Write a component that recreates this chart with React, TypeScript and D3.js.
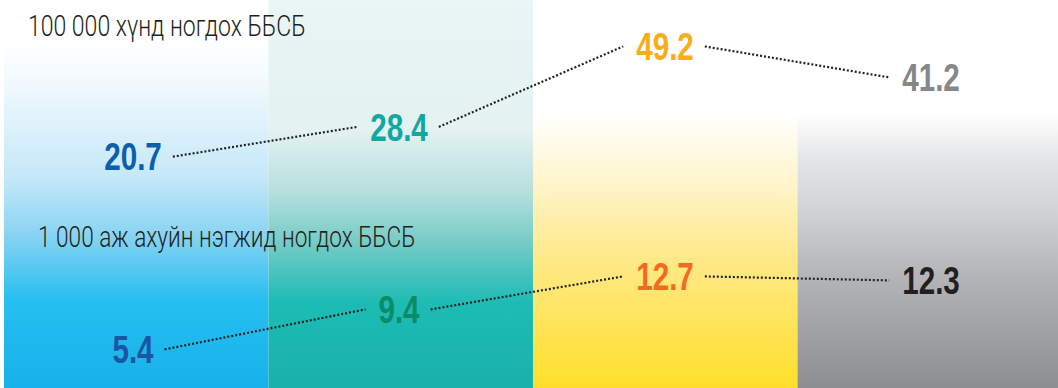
import React, { useEffect, useRef } from "react";
import * as d3 from "d3";

const categories = ["c1", "c2", "c3", "c4"];
const perPopulation = [20.7, 28.4, 49.2, 41.2];
const perEntity = [5.4, 9.4, 12.7, 12.3];
const seriesTitles = ["100 000 хүнд ногдох ББСБ", "1 000 аж ахуйн нэгжид ногдох ББСБ"];

const W = 1058;
const H = 388;
const TITLE_FONT = "Roboto, 'Liberation Sans', sans-serif";
const LABEL_FONT = "'Liberation Sans', Roboto, sans-serif";
const NARROW = 0.78;

const topColors = ["#0b5fac", "#12a7a0", "#f8ad1b", "#868789"];
const bottomColors = ["#1b56a4", "#0d8a66", "#f36b23", "#231f20"];

const columnStyles = [
  { top: 37, stops: [[0, "#ffffff"], [0.1, "#f6fbfe"], [0.4, "#c5e8f8"], [0.55, "#8fd5f3"], [0.75, "#26bff0"], [1, "#17b1eb"]] },
  { top: 0, stops: [[0, "#eaf5f5"], [0.33, "#e4f2f2"], [0.5, "#b3dfdc"], [0.62, "#78ccc6"], [0.78, "#1cbcb5"], [1, "#19b1a9"]] },
  { top: 113, stops: [[0, "#ffffff"], [0.27, "#fef4c7"], [0.5, "#feea8f"], [1, "#ffdf2a"]] },
  { top: 113, stops: [[0, "#ffffff"], [0.17, "#e4e5e7"], [0.36, "#d1d2d4"], [0.58, "#b5b6b9"], [1, "#8d8e91"]] },
];

export default function App() {
  const ref = useRef<SVGSVGElement | null>(null);

  useEffect(() => {
    const svg = d3.select(ref.current);
    svg.selectAll("*").remove();

    const xBand = d3.scaleBand<string>().domain(categories).range([4, 1062]).padding(0);
    const xLabel = d3.scalePoint<string>().domain(categories).range([133, 931]);
    const yTop = d3.scaleLinear().domain([20, 50]).range([159.4, 43.3]);
    const yBottom = d3.scaleLinear().domain([5, 13]).range([353.4, 273.4]);

    const defs = svg.append("defs");
    columnStyles.forEach((c, i) => {
      const g = defs
        .append("linearGradient")
        .attr("id", `col${i}`)
        .attr("x1", 0)
        .attr("y1", 0)
        .attr("x2", 0)
        .attr("y2", 1);
      c.stops.forEach(([o, col]) => g.append("stop").attr("offset", o as number).attr("stop-color", col as string));
    });

    svg
      .append("g")
      .selectAll("rect")
      .data(categories)
      .join("rect")
      .attr("x", (d) => xBand(d)!)
      .attr("y", (_, i) => columnStyles[i].top)
      .attr("width", xBand.bandwidth())
      .attr("height", (_, i) => H - columnStyles[i].top)
      .attr("fill", (_, i) => `url(#col${i})`);

    const titlePos = [
      { x: 28, y: 35.5, fs: 29.5 },
      { x: 38, y: 247, fs: 29 },
    ];
    seriesTitles.forEach((t, i) => {
      svg
        .append("text")
        .attr("transform", `translate(${titlePos[i].x},${titlePos[i].y}) scale(${NARROW},1)`)
        .attr("font-family", TITLE_FONT)
        .attr("font-weight", 300)
        .attr("font-size", titlePos[i].fs)
        .attr("fill", "#231f20")
        .text(t);
    });

    const drawSeries = (values: number[], y: d3.ScaleLinear<number, number>, colors: string[]) => {
      const g = svg.append("g");
      const fs = 38;
      const labels = g
        .selectAll("text")
        .data(values)
        .join("text")
        .attr(
          "transform",
          (d, i) => `translate(${xLabel(categories[i])},${y(d) + fs * 0.36}) scale(${NARROW},1)`
        )
        .attr("text-anchor", "middle")
        .attr("font-family", LABEL_FONT)
        .attr("font-weight", "bold")
        .attr("font-size", fs)
        .attr("fill", (_, i) => colors[i])
        .text((d) => d.toFixed(1));
      const widths: number[] = [];
      labels.each(function () {
        widths.push((this as SVGTextElement).getComputedTextLength() * NARROW);
      });
      const segs = values.slice(0, -1).map((v, i) => ({
        x1: xLabel(categories[i])! + widths[i] / 2 + 11,
        y1: y(v),
        x2: xLabel(categories[i + 1])! - widths[i + 1] / 2 - 13,
        y2: y(values[i + 1]),
      }));
      g.selectAll("line")
        .data(segs)
        .join("line")
        .attr("x1", (d) => d.x1)
        .attr("y1", (d) => d.y1)
        .attr("x2", (d) => d.x2)
        .attr("y2", (d) => d.y2)
        .attr("stroke", "#222222")
        .attr("stroke-width", 2.2)
        .attr("stroke-dasharray", "2 2");
    };

    drawSeries(perPopulation, yTop, topColors);
    drawSeries(perEntity, yBottom, bottomColors);
  }, []);

  return (
    <svg
      ref={ref}
      width={W}
      height={H}
      style={{ position: "absolute", left: 0, top: 0, background: "#ffffff" }}
    />
  );
}
